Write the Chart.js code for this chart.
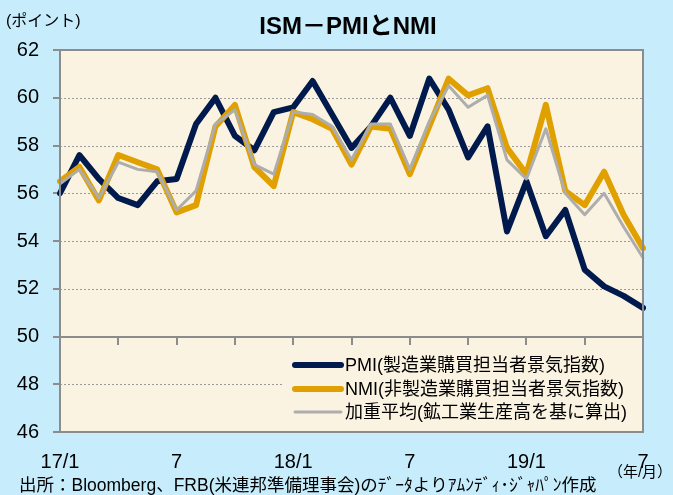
<!DOCTYPE html>
<html>
<head>
<meta charset="utf-8">
<script src="https://cdn.jsdelivr.net/npm/chart.js@4.4.1/dist/chart.umd.min.js"></script>
<style>
html, body { margin:0; padding:0; background:#c7edfc; }
canvas { display:block; }
</style>
</head>
<body>
<canvas id="ismChart" width="673" height="495"></canvas>
<script>
// months 2017/1 - 2019/7
var months = [
	'17/1','17/2','17/3','17/4','17/5','17/6','17/7','17/8','17/9','17/10','17/11','17/12',
	'18/1','18/2','18/3','18/4','18/5','18/6','18/7','18/8','18/9','18/10','18/11','18/12',
	'19/1','19/2','19/3','19/4','19/5','19/6','19/7'
]
var xTickLabels = ['17/1','7','18/1','7','19/1','7']

var pmi = [56.0, 57.6, 56.6, 55.8, 55.5, 56.5, 56.6, 58.9, 60.0, 58.4, 57.8, 59.4,
	59.6, 60.7, 59.3, 57.9, 58.8, 60.0, 58.4, 60.8, 59.5, 57.5, 58.8, 54.4,
	56.5, 54.2, 55.3, 52.8, 52.1, 51.7, 51.2]
var nmi = [56.5, 57.1, 55.7, 57.6, 57.3, 57.0, 55.2, 55.5, 58.8, 59.7, 57.1, 56.3,
	59.4, 59.1, 58.7, 57.2, 58.8, 58.7, 56.8, 58.8, 60.8, 60.1, 60.4, 57.9,
	56.8, 59.7, 56.1, 55.5, 56.9, 55.1, 53.7]
var avg = [56.4, 57.0, 55.8, 57.3, 57.0, 56.9, 55.3, 56.1, 58.9, 59.5, 57.2, 56.8,
	59.4, 59.3, 58.8, 57.4, 58.9, 58.9, 57.0, 59.0, 60.5, 59.6, 60.1, 57.4,
	56.6, 58.7, 56.0, 55.1, 56.0, 54.6, 53.3]

var seriesNames = [
	'PMI(製造業購買担当者景気指数)',
	'NMI(非製造業購買担当者景気指数)',
	'加重平均(鉱工業生産高を基に算出)'
]
var titleText = 'ISM－PMIとNMI'
var unitText = '(ポイント)'
var xUnitText = '（年/月）'
var sourceText = '出所：Bloomberg、FRB(米連邦準備理事会)のﾃﾞｰﾀよりｱﾑﾝﾃﾞｨ･ｼﾞｬﾊﾟﾝ作成'

var FONT = "'Liberation Sans', 'Noto Sans CJK JP', sans-serif"
var BG = '#c7edfc'
var PLOT_BG = '#fbf3e1'
var AXIS = '#8c8c8c'

var framePlugin = {
	id: 'frame',
	beforeDraw: function(chart) {
		var ctx = chart.ctx, a = chart.chartArea
		ctx.save()
		ctx.fillStyle = BG
		ctx.fillRect(0, 0, chart.width, chart.height)
		ctx.fillStyle = PLOT_BG
		ctx.fillRect(a.left, a.top, a.right - a.left, a.bottom - a.top)
		ctx.restore()
	},
	beforeDatasetsDraw: function(chart) {
		var ctx = chart.ctx, a = chart.chartArea
		var y = chart.scales.y, x = chart.scales.x
		ctx.save()
		// dotted grid
		ctx.strokeStyle = '#9a9a9a'
		ctx.lineWidth = 1
		ctx.setLineDash([2, 2])
		y.ticks.forEach(function(t) {
			if (t.value <= 46 || t.value >= 62 || t.value == 50) return
			var py = Math.round(y.getPixelForValue(t.value)) + 0.5
			ctx.beginPath()
			ctx.moveTo(a.left, py)
			ctx.lineTo(a.right, py)
			ctx.stroke()
		})
		ctx.setLineDash([])
		// horizontal axis crossing at 50
		var y50 = Math.round(y.getPixelForValue(50))
		ctx.strokeStyle = AXIS
		ctx.lineWidth = 2
		ctx.beginPath()
		ctx.moveTo(a.left, y50)
		ctx.lineTo(a.right, y50)
		ctx.stroke()
		for (var i = 3; i < months.length - 1; i += 3) {
			var px = Math.round(x.getPixelForValue(i))
			ctx.beginPath()
			ctx.moveTo(px, y50)
			ctx.lineTo(px, y50 + 8)
			ctx.stroke()
		}
		ctx.restore()
	},
	afterDatasetsDraw: function(chart) {
		var ctx = chart.ctx, a = chart.chartArea
		ctx.save()
		// legend box
		ctx.fillStyle = PLOT_BG
		ctx.fillRect(283, 349, a.right - 283, a.bottom - 349)
		var rowsY = [365, 389, 412]
		chart.data.datasets.forEach(function(ds, i) {
			ctx.strokeStyle = ds.borderColor
			ctx.lineWidth = ds.borderWidth
			ctx.lineCap = 'round'
			ctx.beginPath()
			ctx.moveTo(295, rowsY[i])
			ctx.lineTo(341, rowsY[i])
			ctx.stroke()
			ctx.fillStyle = '#000'
			ctx.font = '18px ' + FONT
			ctx.textAlign = 'left'
			ctx.textBaseline = 'middle'
			ctx.fillText(ds.label, 345, rowsY[i] + 1)
		})
		// plot frame
		ctx.strokeStyle = AXIS
		ctx.lineWidth = 2
		ctx.lineCap = 'butt'
		ctx.strokeRect(a.left, a.top, a.right - a.left, a.bottom - a.top)
		ctx.restore()
	},
	afterDraw: function(chart) {
		var ctx = chart.ctx
		ctx.save()
		ctx.fillStyle = '#000'
		ctx.textBaseline = 'middle'
		ctx.textAlign = 'center'
		ctx.font = 'bold 24px ' + FONT
		ctx.fillText(titleText, 348, 27)
		ctx.textAlign = 'left'
		ctx.font = '16px ' + FONT
		ctx.fillText(unitText, 6, 22)
		ctx.font = '17.5px ' + FONT
		ctx.fillText(sourceText, 19, 486)
		ctx.font = '15px ' + FONT
		ctx.textAlign = 'center'
		ctx.fillText(xUnitText, 640, 473)
		ctx.restore()
	}
}

function CdcIsm() {
	var cfg = {
		type: 'line',
		data: {
			labels: months,
			datasets: [
				{
					label: seriesNames[0],
					data: pmi,
					borderColor: '#001a4d',
					borderWidth: 6,
					order: 3
				}, {
					label: seriesNames[1],
					data: nmi,
					borderColor: '#dfa000',
					borderWidth: 6,
					order: 2
				}, {
					label: seriesNames[2],
					data: avg,
					borderColor: '#adadad',
					borderWidth: 3,
					order: 1
				}
			]
		},
		options: {
			responsive: false,
			animation: false,
			devicePixelRatio: 1,
			layout: { padding: { top: 50, right: 30, left: 0, bottom: 0 } },
			elements: {
				point: { radius: 0 },
				line: { tension: 0, borderJoinStyle: 'round', borderCapStyle: 'round' }
			},
			plugins: {
				legend: { display: false },
				title: { display: false },
				tooltip: { enabled: false }
			},
			scales: {
				x: {
					type: 'category',
					offset: false,
					grid: { display: false },
					border: { display: false },
					afterFit: function(s) { s.height = 63 },
					ticks: {
						autoSkip: false,
						maxRotation: 0,
						padding: 10,
						color: '#000',
						font: { family: FONT, size: 20 },
						callback: function(v, i) { return i % 6 === 0 ? xTickLabels[i / 6] : '' }
					}
				},
				y: {
					min: 46,
					max: 62,
					afterFit: function(s) { s.width = 60 },
					grid: { drawOnChartArea: false, drawTicks: true, tickLength: 7, color: AXIS, lineWidth: 2 },
					border: { display: false },
					ticks: {
						stepSize: 2,
						padding: 14,
						color: '#000',
						font: { family: FONT, size: 20 }
					}
				}
			}
		},
		plugins: [framePlugin]
	}
	var ctx = document.getElementById('ismChart')
	return new Chart(ctx, cfg)
}
CdcIsm()
</script>
</body>
</html>
